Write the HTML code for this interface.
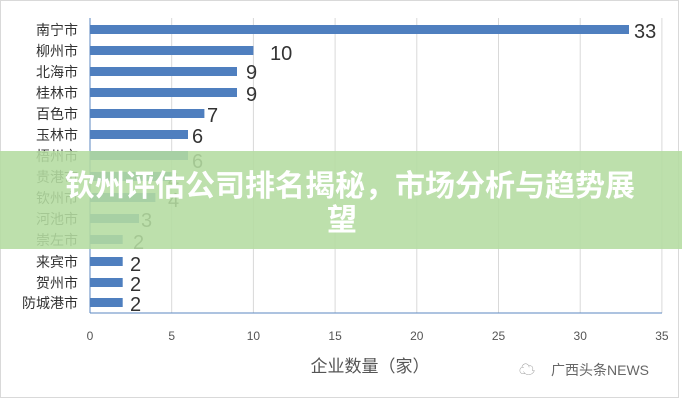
<!DOCTYPE html>
<html><head><meta charset="utf-8"><style>
body{margin:0;background:#fff;}
svg{display:block;font-family:"Liberation Sans","Noto Sans CJK SC",sans-serif;}
</style></head><body>
<svg width="682" height="400" viewBox="0 0 682 400" xmlns="http://www.w3.org/2000/svg">
<rect x="0.5" y="0.5" width="678" height="397" fill="#fff" stroke="#d9d9d9"/>
<g stroke="#d9d9d9" stroke-width="1">
<line x1="171.7" y1="18" x2="171.7" y2="313"/>
<line x1="253.4" y1="18" x2="253.4" y2="313"/>
<line x1="335.1" y1="18" x2="335.1" y2="313"/>
<line x1="416.8" y1="18" x2="416.8" y2="313"/>
<line x1="498.5" y1="18" x2="498.5" y2="313"/>
<line x1="580.2" y1="18" x2="580.2" y2="313"/>
<line x1="661.9" y1="18" x2="661.9" y2="313"/>
</g>
<line x1="90" y1="313" x2="662" y2="313" stroke="#5b87c0" stroke-width="1"/>
<line x1="90" y1="18" x2="90" y2="313" stroke="#5b87c0" stroke-width="1"/>
<g fill="#4f7fbf">
<rect x="90" y="25" width="539" height="9"/>
<rect x="90" y="46" width="163.4" height="9"/>
<rect x="90" y="67" width="147" height="9"/>
<rect x="90" y="88" width="147" height="9"/>
<rect x="90" y="109" width="114.4" height="9"/>
<rect x="90" y="130" width="98" height="9"/>
<rect x="90" y="151" width="98" height="9"/>
<rect x="90" y="172" width="81.7" height="9"/>
<rect x="90" y="193" width="65.4" height="9"/>
<rect x="90" y="214" width="49" height="9"/>
<rect x="90" y="235" width="32.7" height="9"/>
<rect x="90" y="257" width="32.7" height="9"/>
<rect x="90" y="278" width="32.7" height="9"/>
<rect x="90" y="298" width="32.7" height="9"/>
</g>
<g font-size="14" fill="#333" text-anchor="end">
<text x="78" y="35">南宁市</text><text x="78" y="56">柳州市</text><text x="78" y="77">北海市</text>
<text x="78" y="98">桂林市</text><text x="78" y="119">百色市</text><text x="78" y="140">玉林市</text>
<text x="78" y="161">梧州市</text><text x="78" y="182">贵港市</text><text x="78" y="203">钦州市</text>
<text x="78" y="224">河池市</text><text x="78" y="245">崇左市</text><text x="78" y="267">来宾市</text>
<text x="78" y="288">贺州市</text><text x="78" y="308">防城港市</text>
</g>
<g font-size="20" fill="#333">
<text x="634" y="38">33</text><text x="270" y="60">10</text><text x="246" y="79">9</text>
<text x="246" y="101">9</text><text x="207" y="122">7</text><text x="192" y="143">6</text>
<text x="192" y="168">6</text><text x="168" y="187">4</text><text x="168" y="207">4</text>
<text x="141" y="227">3</text><text x="133" y="249">2</text><text x="130" y="271">2</text>
<text x="130" y="291">2</text><text x="130" y="311">2</text>
</g>
<g font-size="12" fill="#555" text-anchor="middle">
<text x="90" y="340">0</text><text x="171.7" y="340">5</text><text x="253.4" y="340">10</text>
<text x="335.1" y="340">15</text><text x="416.8" y="340">20</text><text x="498.5" y="340">25</text>
<text x="580.2" y="340">30</text><text x="661.9" y="340">35</text>
</g>
<text x="370" y="372" font-size="17" fill="#555" text-anchor="middle">企业数量（家）</text>
<text x="551" y="375" font-size="14" fill="#666">广西头条NEWS</text>
<text x="519" y="375" font-size="16" fill="#999">☁</text>
<rect x="0" y="151" width="682" height="98" fill="#b4dca0" fill-opacity="0.88"/>
<g font-size="30" font-weight="bold" fill="#fff" text-anchor="middle">
<text x="350" y="196">钦州评估公司排名揭秘，市场分析与趋势展</text>
<text x="342" y="230">望</text>
</g>
</svg>
</body></html>
